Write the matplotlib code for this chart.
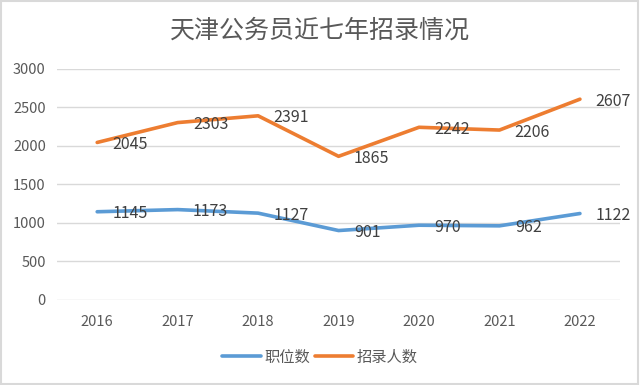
import matplotlib
matplotlib.use("Agg")
import matplotlib.pyplot as plt
from matplotlib.patches import Rectangle

plt.rcParams["font.family"] = ["Noto Sans CJK SC", "DejaVu Sans"]

years = ["2016", "2017", "2018", "2019", "2020", "2021", "2022"]
positions = [1145, 1173, 1127, 901, 970, 962, 1122]
recruits = [2045, 2303, 2391, 1865, 2242, 2206, 2607]

C = {
    "blue": "#5B9BD5",
    "orange": "#ED7D31",
    "text": "#595959",
    "label": "#404040",
    "grid": "#D9D9D9",
}

fig = plt.figure(figsize=(6.4, 3.85), dpi=100)
ax = fig.add_axes([0.089, 0.221, 0.88, 0.6])

x = list(range(len(years)))
ax.plot(x, positions, color=C["blue"], linewidth=2.6, solid_capstyle="round",
        label="职位数", zorder=3)
ax.plot(x, recruits, color=C["orange"], linewidth=2.6, solid_capstyle="round",
        label="招录人数", zorder=3)

# data labels to the right of each point, like Excel "right" position
for series in (positions, recruits):
    for xi, v in zip(x, series):
        ax.annotate(str(v), xy=(xi, v), xytext=(11, -1.5), textcoords="offset points",
                    ha="left", va="center", fontsize=11.5, color=C["label"], zorder=4)

ax.set_xlim(-0.5, len(years) - 0.5)
ax.set_ylim(0, 3000)
ax.set_yticks(range(0, 3001, 500))
ax.set_xticks(x)
ax.set_xticklabels(years)
ax.tick_params(axis="both", length=0, labelsize=10.5, colors=C["text"])
ax.tick_params(axis="x", pad=11)
ax.tick_params(axis="y", pad=8)
ax.grid(axis="y", color=C["grid"], linewidth=1, zorder=0)
for s in ax.spines.values():
    s.set_visible(False)

fig.text(0.5, 0.92, "天津公务员近七年招录情况", ha="center", va="center",
         fontsize=18, fontweight="light", color=C["text"])

fig.legend(loc="center", bbox_to_anchor=(0.5, 0.073), ncol=2, frameon=False,
           fontsize=11, handlelength=2.5, handletextpad=0.25, columnspacing=0.3,
           labelcolor=C["text"])

fig.patches.append(Rectangle((0.002, 0.003), 0.995, 0.994, transform=fig.transFigure,
                             fill=False, edgecolor="#D9D9D9", linewidth=1.5))

fig.savefig("out.png", dpi=100)
